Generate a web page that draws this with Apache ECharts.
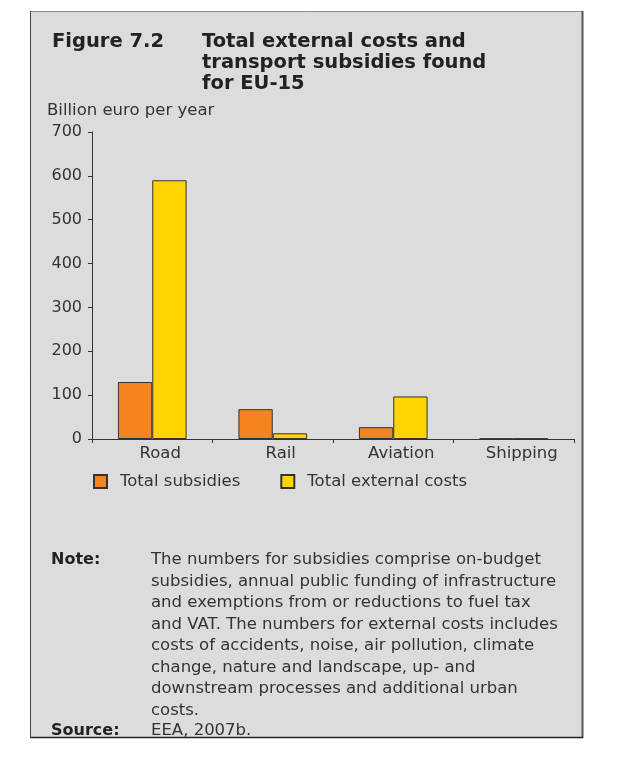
<!DOCTYPE html>
<html><head><meta charset="utf-8">
<script src="https://cdn.jsdelivr.net/npm/echarts@6/dist/echarts.min.js"></script>
<style>html,body{margin:0;padding:0;background:#fff;}#c{width:625px;height:760px;}</style>
</head><body><div id="c"></div>
<script>
var categories = ['Road', 'Rail', 'Aviation', 'Shipping'];
var subsidies = [130, 68, 27, 1];
var externalCosts = [590, 13, 97, 1];
var yTicks = [0, 100, 200, 300, 400, 500, 600, 700];
var titleLines = ['Total external costs and', 'transport subsidies found', 'for EU-15'];
var noteLines = [
  'The numbers for subsidies comprise on-budget',
  'subsidies, annual public funding of infrastructure',
  'and exemptions from or reductions to fuel tax',
  'and VAT. The numbers for external costs includes',
  'costs of accidents, noise, air pollution, climate',
  'change, nature and landscape, up- and',
  'downstream processes and additional urban',
  'costs.'
];

var FONT = '"DejaVu Sans", Verdana, sans-serif';
var chart = echarts.init(document.getElementById('c'), null, {renderer: 'canvas'});

function txt(x, y, t, font, fill) {
  return {type: 'text', x: x, y: y, z: 5,
    style: {text: t, font: font, fill: fill, verticalAlign: 'middle', align: 'left'}};
}

var graphics = [
  {type: 'rect', z: -10, shape: {x: 30.5, y: 11.5, width: 552, height: 726},
   style: {fill: '#dcdcdc', stroke: '#8a8a8a', lineWidth: 1}},
  {type: 'line', z: -9, shape: {x1: 582.5, y1: 11, x2: 582.5, y2: 738}, style: {stroke: '#555', lineWidth: 2}},
  {type: 'line', z: -9, shape: {x1: 30, y1: 737.5, x2: 583, y2: 737.5}, style: {stroke: '#222', lineWidth: 1.5}},
  {type: 'line', z: -9, shape: {x1: 30.5, y1: 11, x2: 30.5, y2: 738}, style: {stroke: '#444', lineWidth: 1}},
  txt(52, 42, 'Figure 7.2', 'bold 19.5px ' + FONT, '#222'),
  txt(47, 111, 'Billion euro per year', '16.5px ' + FONT, '#333'),
  txt(51, 560, 'Note:', 'bold 16px ' + FONT, '#222'),
  txt(51, 731, 'Source:', 'bold 16px ' + FONT, '#222'),
  txt(151, 731, 'EEA, 2007b.', '16.5px ' + FONT, '#333')
];
titleLines.forEach(function (t, i) {
  graphics.push(txt(202, 42 + i * 21, t, 'bold 19.5px ' + FONT, '#222'));
});
noteLines.forEach(function (t, i) {
  graphics.push(txt(151, 560 + i * 21.5, t, '16.5px ' + FONT, '#333'));
});

chart.setOption({
  animation: false,
  backgroundColor: '#ffffff',
  graphic: graphics,
  grid: {left: 92, right: 51, top: 132, bottom: 321, containLabel: false},
  legend: {
    left: 93, top: 473, padding: 0, itemWidth: 13, itemHeight: 13, itemGap: 40, icon: 'rect',
    textStyle: {fontFamily: FONT, fontSize: 16.5, color: '#333', padding: [0, 0, 0, 8]},
    data: ['Total subsidies', 'Total external costs']
  },
  xAxis: {
    type: 'category', data: categories,
    axisLine: {lineStyle: {color: '#333', width: 1}},
    axisTick: {show: true, interval: 0, length: 4, lineStyle: {color: '#333'}},
    axisLabel: {fontFamily: FONT, fontSize: 16.5, color: '#333', margin: 6, padding: [0, 0, 0, 16]}
  },
  yAxis: {
    type: 'value', min: yTicks[0], max: yTicks[yTicks.length - 1], interval: 100,
    axisLine: {show: true, lineStyle: {color: '#333', width: 1}},
    axisTick: {show: true, length: 4, lineStyle: {color: '#333'}},
    splitLine: {show: false},
    axisLabel: {fontFamily: FONT, fontSize: 16, color: '#333', margin: 10}
  },
  series: [
    {name: 'Total subsidies', type: 'bar', data: subsidies, barGap: '0%', barCategoryGap: '43%',
     itemStyle: {color: '#f5841f', borderColor: '#333', borderWidth: 1}},
    {name: 'Total external costs', type: 'bar', data: externalCosts,
     itemStyle: {color: '#ffd400', borderColor: '#333', borderWidth: 1}}
  ]
});
</script></body></html>
